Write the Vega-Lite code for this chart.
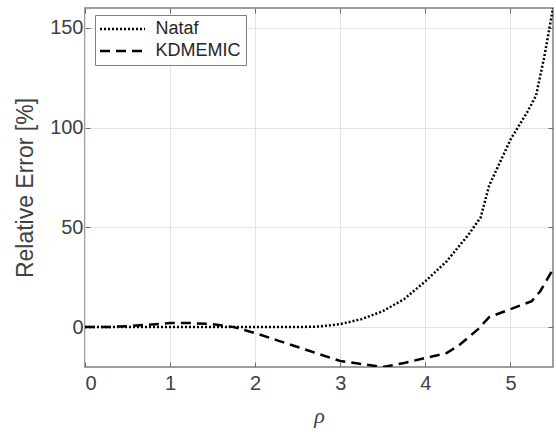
{
  "$schema": "https://vega.github.io/schema/vega-lite/v6.json",
  "width": 468,
  "height": 359,
  "autosize": "none",
  "padding": {"left": 85, "top": 8, "right": 3, "bottom": 65},
  "background": "white",
  "config": {
    "view": {"stroke": "#7f7f7f", "strokeWidth": 1.5},
    "axis": {
      "grid": true,
      "gridColor": "#e3e3e3",
      "gridWidth": 1,
      "domain": false,
      "tickColor": "#6a6a6a",
      "tickSize": -5,
      "tickWidth": 1,
      "labelFont": "Liberation Sans",
      "labelFontSize": 20,
      "labelColor": "#404040",
      "titleColor": "#404040",
      "titleFontWeight": "normal"
    }
  },
  "data": {
    "values": [
      {"rho": 0, "err": 0, "method": "Nataf"},
      {"rho": 0.5, "err": 0, "method": "Nataf"},
      {"rho": 1, "err": 0, "method": "Nataf"},
      {"rho": 1.5, "err": 0, "method": "Nataf"},
      {"rho": 2, "err": 0, "method": "Nataf"},
      {"rho": 2.5, "err": 0, "method": "Nataf"},
      {"rho": 2.75, "err": 0.3, "method": "Nataf"},
      {"rho": 3, "err": 1.5, "method": "Nataf"},
      {"rho": 3.25, "err": 4, "method": "Nataf"},
      {"rho": 3.5, "err": 8, "method": "Nataf"},
      {"rho": 3.75, "err": 14, "method": "Nataf"},
      {"rho": 4, "err": 23, "method": "Nataf"},
      {"rho": 4.25, "err": 33, "method": "Nataf"},
      {"rho": 4.5, "err": 46, "method": "Nataf"},
      {"rho": 4.65, "err": 55, "method": "Nataf"},
      {"rho": 4.75, "err": 71, "method": "Nataf"},
      {"rho": 5, "err": 94, "method": "Nataf"},
      {"rho": 5.2, "err": 108, "method": "Nataf"},
      {"rho": 5.3, "err": 116, "method": "Nataf"},
      {"rho": 5.4, "err": 136, "method": "Nataf"},
      {"rho": 5.45, "err": 148, "method": "Nataf"},
      {"rho": 5.5, "err": 160, "method": "Nataf"},
      {"rho": 0, "err": 0, "method": "KDMEMIC"},
      {"rho": 0.25, "err": 0, "method": "KDMEMIC"},
      {"rho": 0.5, "err": 0.5, "method": "KDMEMIC"},
      {"rho": 0.75, "err": 1.2, "method": "KDMEMIC"},
      {"rho": 1, "err": 2, "method": "KDMEMIC"},
      {"rho": 1.25, "err": 2, "method": "KDMEMIC"},
      {"rho": 1.5, "err": 1.5, "method": "KDMEMIC"},
      {"rho": 1.75, "err": 0, "method": "KDMEMIC"},
      {"rho": 2, "err": -3, "method": "KDMEMIC"},
      {"rho": 2.25, "err": -6.5, "method": "KDMEMIC"},
      {"rho": 2.5, "err": -10, "method": "KDMEMIC"},
      {"rho": 2.75, "err": -13.5, "method": "KDMEMIC"},
      {"rho": 3, "err": -17, "method": "KDMEMIC"},
      {"rho": 3.25, "err": -18.5, "method": "KDMEMIC"},
      {"rho": 3.5, "err": -20, "method": "KDMEMIC"},
      {"rho": 3.75, "err": -18, "method": "KDMEMIC"},
      {"rho": 4, "err": -15.5, "method": "KDMEMIC"},
      {"rho": 4.25, "err": -13, "method": "KDMEMIC"},
      {"rho": 4.4, "err": -9, "method": "KDMEMIC"},
      {"rho": 4.62, "err": -1, "method": "KDMEMIC"},
      {"rho": 4.75, "err": 5, "method": "KDMEMIC"},
      {"rho": 5, "err": 9, "method": "KDMEMIC"},
      {"rho": 5.25, "err": 13, "method": "KDMEMIC"},
      {"rho": 5.35, "err": 18, "method": "KDMEMIC"},
      {"rho": 5.5, "err": 29, "method": "KDMEMIC"}
    ]
  },
  "layer": [
    {
      "mark": {"type": "line", "color": "black", "strokeWidth": 2.5, "clip": true},
      "encoding": {
        "x": {
          "field": "rho", "type": "quantitative",
          "scale": {"domain": [0, 5.5], "nice": false, "zero": false},
          "axis": {"orient": "bottom", "values": [0, 1, 2, 3, 4, 5], "labelPadding": 11, "title": "ρ", "titleFont": "Liberation Serif", "titleFontStyle": "italic", "titleFontSize": 22, "titlePadding": 12}
        },
        "y": {
          "field": "err", "type": "quantitative",
          "scale": {"domain": [-20, 160], "nice": false, "zero": false},
          "axis": {"orient": "left", "values": [0, 50, 100, 150], "labelPadding": 7, "title": "Relative Error [%]", "titleFont": "Liberation Sans", "titleFontSize": 23, "titlePadding": 12}
        },
        "strokeDash": {
          "field": "method", "type": "nominal",
          "scale": {"domain": ["Nataf", "KDMEMIC"], "range": [[2, 2], [10, 6]]},
          "legend": {
            "title": null,
            "orient": "none",
            "legendX": 10,
            "legendY": 7,
            "symbolType": "M-3,0H3",
            "symbolSize": 225,
            "symbolOffset": 13.5,
            "symbolStrokeWidth": 2.5,
            "symbolStrokeColor": "black",
            "labelFont": "Liberation Sans",
            "labelFontSize": 18,
            "labelColor": "#262626",
            "labelOffset": 24,
            "strokeColor": "#7f7f7f",
            "fillColor": "white",
            "padding": 5,
            "rowPadding": 4
          }
        }
      }
    },
    {
      "mark": {"type": "point", "opacity": 0},
      "encoding": {
        "x": {"field": "rho", "type": "quantitative", "axis": {"orient": "top", "values": [0, 1, 2, 3, 4, 5], "labels": false, "grid": false, "title": null}},
        "y": {"field": "err", "type": "quantitative", "axis": {"orient": "right", "values": [0, 50, 100, 150], "labels": false, "grid": false, "title": null}}
      }
    }
  ],
  "resolve": {"axis": {"x": "independent", "y": "independent"}}
}
